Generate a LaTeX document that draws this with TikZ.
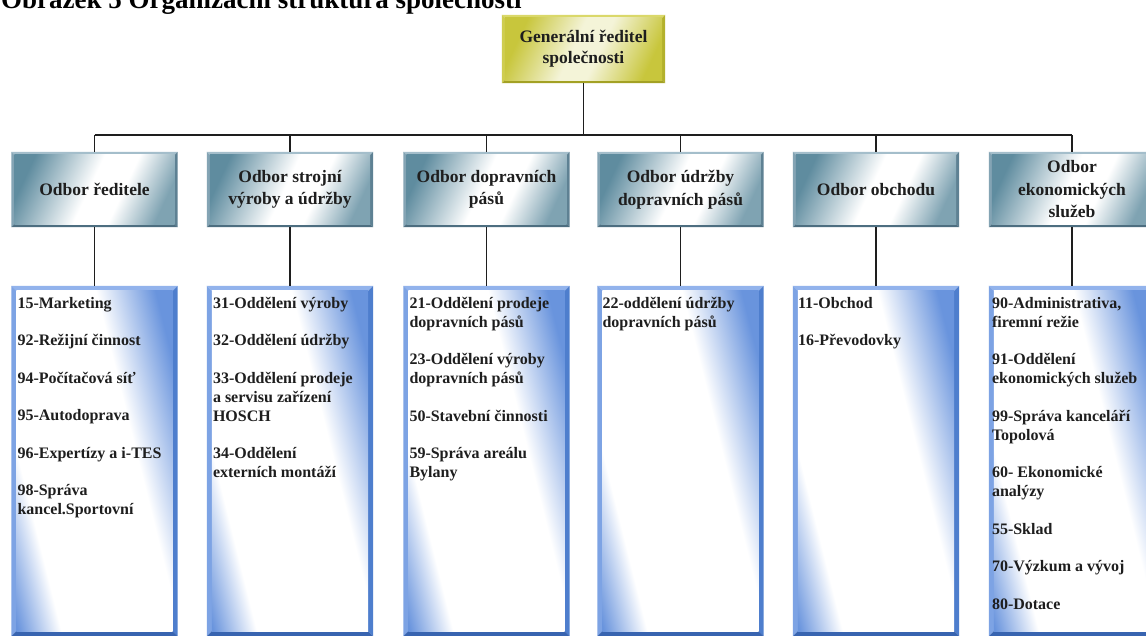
\documentclass[tikz,border=0pt]{standalone}
\usepackage{fontspec}
\setmainfont{Liberation Serif}
\usetikzlibrary{backgrounds}
\definecolor{lthree}{HTML}{6994DD}
\definecolor{lthreeT}{HTML}{92B3EC}
\definecolor{lthreeL}{HTML}{7DA3E4}
\definecolor{lthreeR}{HTML}{4E7ECD}
\definecolor{lthreeB}{HTML}{3864B0}
\definecolor{ltwo}{HTML}{5F8C9F}
\definecolor{ltwoT}{HTML}{A4BECB}
\definecolor{ltwoL}{HTML}{84A4B4}
\definecolor{ltwoR}{HTML}{5E8193}
\definecolor{ltwoB}{HTML}{4D6E80}
\definecolor{yel}{HTML}{C8C63C}
\definecolor{yelT}{HTML}{DAD86A}
\definecolor{yelL}{HTML}{CFCD50}
\definecolor{yelR}{HTML}{B3B12C}
\definecolor{yelB}{HTML}{A3A124}
\definecolor{ink}{HTML}{1E1E1E}
\pgfdeclarehorizontalshading{lthreesh}{100bp}{color(0bp)=(lthree); color(20bp)=(lthree); color(31bp)=(white); color(61bp)=(white); color(76bp)=(lthree); color(100bp)=(lthree)}
\pgfdeclarehorizontalshading{ltwosh}{100bp}{color(0bp)=(ltwo); color(24bp)=(ltwo); color(48bp)=(white); color(60bp)=(white); color(76bp)=(ltwo!80); color(100bp)=(ltwo!80)}
\pgfdeclarehorizontalshading{topsh}{100bp}{color(0bp)=(yel); color(25bp)=(yel); color(46bp)=(yel!20); color(56bp)=(yel!20); color(76bp)=(yel); color(100bp)=(yel)}
\newcommand{\bevbox}[7]{%
  \fill[#3] (#1.north west) -- (#1.north east) -- ([shift={(-#2,-#2)}]#1.north east) -- ([shift={(#2,-#2)}]#1.north west) -- cycle;
  \fill[#4] (#1.north west) -- ([shift={(#2,-#2)}]#1.north west) -- ([shift={(#2,#2)}]#1.south west) -- (#1.south west) -- cycle;
  \fill[#5] (#1.north east) -- (#1.south east) -- ([shift={(-#2,#2)}]#1.south east) -- ([shift={(-#2,-#2)}]#1.north east) -- cycle;
  \fill[#6] (#1.south west) -- (#1.south east) -- ([shift={(-#2,#2)}]#1.south east) -- ([shift={(#2,#2)}]#1.south west) -- cycle;
  \shade[#7] ([shift={(#2,-#2)}]#1.north west) rectangle ([shift={(-#2,#2)}]#1.south east);
}
\tikzset{
  topbox/.style={rectangle, minimum width=163pt, minimum height=68pt, inner sep=0pt, align=center, text=ink,
    font=\bfseries\fontsize{17.5}{21}\selectfont},
  ltwobox/.style={rectangle, minimum width=166pt, minimum height=75pt, inner sep=0pt, align=center, text=ink,
    font=\bfseries\fontsize{17.5}{22.5}\selectfont},
  lthreebox/.style={rectangle, minimum width=166pt, minimum height=350pt, inner sep=0pt},
  lthreetext/.style={anchor=north west, inner sep=0pt, align=left, text=ink,
    font=\bfseries\fontsize{16}{19}\selectfont},
  conn/.style={draw=ink, line width=1.3pt},
  sh3/.style={shading=lthreesh, shading angle=14},
  sh2/.style={shading=ltwosh, shading angle=-25},
  sht/.style={shading=topsh, shading angle=-25},
}
\begin{document}
\begin{tikzpicture}[x=1pt,y=1pt]
\useasboundingbox (0,0) rectangle (1146,-635);
\node[anchor=base west, inner sep=0pt, font=\bfseries\fontsize{27}{30}\selectfont, text=black] (cap) at (1,-8) {Obrázek 5 Organizační struktura společnosti};

\node[topbox] (gd) at (583.5,-49) {Generální ředitel\\společnosti};
\coordinate (bar) at (0,-135);

\node[ltwobox] (o1) at (94.5,-189.5) {Odbor ředitele};
\node[ltwobox] (o2) at (290,-189.5) {Odbor strojní\\výroby a údržby};
\node[ltwobox] (o3) at (486.5,-189.5) {Odbor dopravních\\pásů};
\node[ltwobox] (o4) at (680.5,-189.5) {Odbor údržby\\dopravních pásů};
\node[ltwobox] (o5) at (876,-189.5) {Odbor obchodu};
\node[ltwobox] (o6) at (1072,-189.5) {Odbor\\ekonomických\\služeb};

\node[lthreebox] (d1) at (94.5,-461) {};
\node[lthreebox] (d2) at (290,-461) {};
\node[lthreebox] (d3) at (486.5,-461) {};
\node[lthreebox] (d4) at (680.5,-461) {};
\node[lthreebox] (d5) at (876,-461) {};
\node[lthreebox] (d6) at (1072,-461) {};

\begin{scope}[on background layer]
  \fill[white] (0,0) rectangle (1146,-635);
  \bevbox{gd}{3}{yelT}{yelL}{yelR}{yelB}{sht}
  \foreach \i in {1,...,6}{
    \bevbox{o\i}{3}{ltwoT}{ltwoL}{ltwoR}{ltwoB}{sh2}
    \bevbox{d\i}{5}{lthreeT}{lthreeL}{lthreeR}{lthreeB}{sh3}
  }
\end{scope}

\node[lthreetext] (t1) at ([shift={(6,-8.7)}]d1.north west) {\strut 15-Marketing\\[18.5pt]92-Režijní činnost\\[18.5pt]94-Počítačová síť\\[18.5pt]95-Autodoprava\\[18.5pt]96-Expertízy a i-TES\\[18.5pt]98-Správa\\kancel.Sportovní};
\node[lthreetext] (t2) at ([shift={(6,-8.7)}]d2.north west) {\strut 31-Oddělení výroby\\[18.5pt]32-Oddělení údržby\\[18.5pt]33-Oddělení prodeje\\a servisu zařízení\\HOSCH\\[18.5pt]34-Oddělení\\externích montáží};
\node[lthreetext] (t3) at ([shift={(6,-8.7)}]d3.north west) {\strut 21-Oddělení prodeje\\dopravních pásů\\[18.5pt]23-Oddělení výroby\\dopravních pásů\\[18.5pt]50-Stavební činnosti\\[18.5pt]59-Správa areálu\\Bylany};
\node[lthreetext] (t4) at ([shift={(5,-8.7)}]d4.north west) {\strut 22-oddělení údržby\\dopravních pásů};
\node[lthreetext] (t5) at ([shift={(5,-8.7)}]d5.north west) {\strut 11-Obchod\\[18.5pt]16-Převodovky};
\node[lthreetext] (t6) at ([shift={(3,-8.7)}]d6.north west) {\strut 90-Administrativa,\\firemní režie\\[18.5pt]91-Oddělení\\ekonomických služeb\\[18.5pt]99-Správa kanceláří\\Topolová\\[18.5pt]60- Ekonomické\\analýzy\\[18.5pt]55-Sklad\\[18.5pt]70-Výzkum a vývoj\\[18.5pt]80-Dotace};

\draw[conn] (gd.south) -- (gd.south |- bar);
\draw[conn] (o1.north |- bar) -- (o6.north |- bar);
\foreach \i in {1,...,6}{
  \draw[conn] (o\i.north |- bar) -- (o\i.north);
  \draw[conn] (o\i.south) -- (d\i.north);
}
\end{tikzpicture}
\end{document}
